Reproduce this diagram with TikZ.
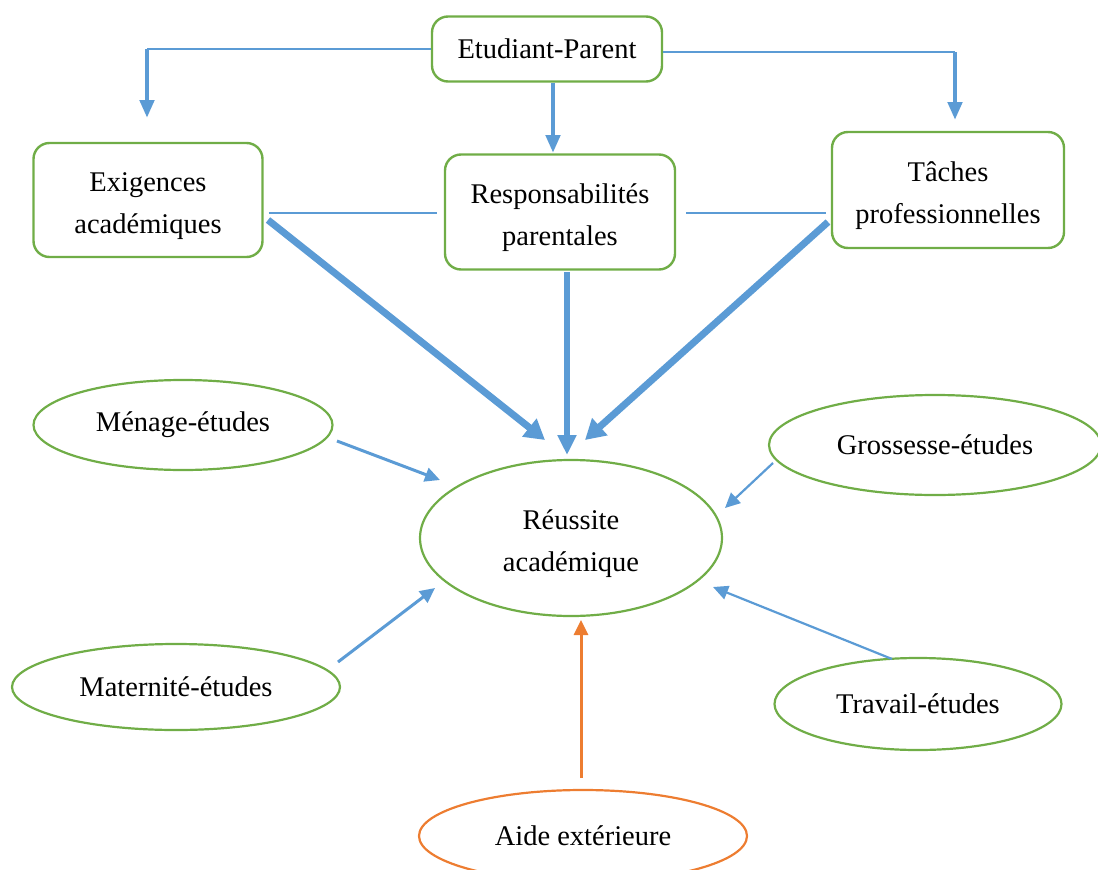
\documentclass[tikz,border=0pt]{standalone}
\usepackage{fontspec}
\setmainfont{Liberation Serif}
\usetikzlibrary{shapes.geometric,arrows.meta,calc}
\definecolor{grn}{RGB}{112,173,71}
\definecolor{blu}{RGB}{91,155,213}
\definecolor{org}{RGB}{237,125,49}
\newcommand\dnstrut{\rule{0pt}{32pt}}
\begin{document}
\begin{tikzpicture}[x=1pt,y=-1pt,
  txt/.style={font=\fontsize{28.5}{42}\selectfont, align=center, text=black},
  rbox/.style={txt, draw=grn, line width=2.4pt, rounded corners=16pt, inner sep=0pt},
  ell/.style={txt, ellipse, draw=grn, line width=2.2pt, inner sep=0pt},
  thinline/.style={draw=blu, line width=1.8pt},
  midarrow/.style={draw=blu, line width=4.5pt, -{Triangle[length=18pt,width=14pt]}},
  bigarrow/.style={draw=blu, line width=7pt, -{Triangle[length=20pt,width=22pt]}},
  smallarrow/.style={draw=blu, line width=3pt, -{Triangle[length=15pt,width=14pt]}},
]
\useasboundingbox (0,0) rectangle (1098,870);
% boxes
\node[rbox, minimum width=230pt, minimum height=65pt] (ep) at (547,49) {Etudiant-Parent};
\node[rbox, minimum width=229pt, minimum height=114pt] (ex) at (148,200) {\dnstrut Exigences\\acad\'emiques};
\node[rbox, minimum width=230pt, minimum height=115pt] (rp) at (560,212) {\dnstrut Responsabilit\'es\\parentales};
\node[rbox, minimum width=232pt, minimum height=116pt] (ta) at (948,190) {\dnstrut T\^aches\\professionnelles};
% ellipses
\node[ell, minimum width=302pt, minimum height=156pt] (reu) at (571,538) {\dnstrut R\'eussite\\acad\'emique};
\node[ell, minimum width=299pt, minimum height=90pt] (men) at (183,425) {M\'enage-\'etudes};
\node[ell, minimum width=332pt, minimum height=100pt] (gro) at (935,445) {Grossesse-\'etudes};
\node[ell, minimum width=328pt, minimum height=86pt] (mat) at (176,687) {Maternit\'e-\'etudes};
\node[ell, minimum width=287pt, minimum height=92pt] (tra) at (918,704) {Travail-\'etudes};
\node[ell, draw=org, minimum width=328pt, minimum height=92pt] (aid) at (583,836) {Aide ext\'erieure};
% coordinates
\coordinate (exL) at (147,118);
\coordinate (taL) at (955,120);
\coordinate (rpT) at (553,153);
\coordinate (exS) at (268,220);
\coordinate (taS) at (828,222);
\coordinate (rpS) at (567,272);
\coordinate (t1) at (545,440);
\coordinate (t2) at (567,455);
\coordinate (t3) at (585,440);
\coordinate (menS) at (337,441);
\coordinate (menT) at (440,480);
\coordinate (groS) at (773,463);
\coordinate (groT) at (725,508);
\coordinate (matS) at (338,662);
\coordinate (matT) at (435,588);
\coordinate (traS) at (892,659);
\coordinate (traT) at (713,587);
\coordinate (aidS) at (581,778);
\coordinate (aidT) at (581,620);
% top connectors
\draw[thinline] (ep.west) -- (ep.west -| exL);
\draw[midarrow] (ep.west -| exL) -- (exL);
\draw[thinline] ([yshift=-3pt]ep.east) -- ([yshift=-3pt]ep.east -| taL);
\draw[midarrow] ([yshift=-3pt]ep.east -| taL) -- (taL);
\draw[midarrow] (ep.south -| rpT) -- (rpT);
% horizontal thin lines
\draw[thinline] ([xshift=5pt]ex.east |- 0,213) -- ([xshift=-7pt]rp.west |- 0,213);
\draw[thinline] ([xshift=10pt]rp.east |- 0,213) -- ([xshift=-5pt]ta.west |- 0,213);
% thick arrows
\draw[bigarrow] (exS) -- (t1);
\draw[midarrow, line width=5.5pt, -{Triangle[length=20pt,width=18pt]}] (rpS) -- (t2);
\draw[bigarrow] (taS) -- (t3);
% ellipse arrows
\draw[smallarrow] (menS) -- (menT);
\draw[smallarrow, line width=2.2pt] (groS) -- (groT);
\draw[smallarrow] (matS) -- (matT);
\draw[smallarrow, line width=2.2pt] (traS) -- (traT);
\draw[smallarrow, draw=org] (aidS) -- (aidT);
\end{tikzpicture}
\end{document}
